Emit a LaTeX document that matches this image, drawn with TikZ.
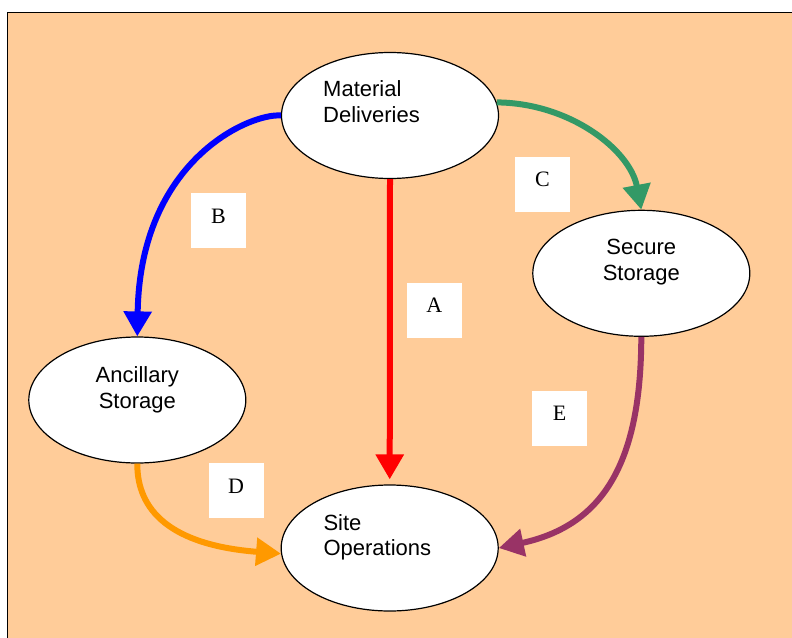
\documentclass[tikz,border=0pt]{standalone}
\usepackage{fontspec}
\setmainfont{Liberation Serif}
\newfontfamily\labelsans{Liberation Sans}
\usetikzlibrary{arrows.meta}
\definecolor{bgpeach}{HTML}{FFCC99}
\definecolor{cgreen}{HTML}{339966}
\definecolor{corange}{HTML}{FF9900}
\definecolor{cpurple}{HTML}{993366}
\tikzset{
  oval/.style={draw=black, line width=1.2pt, fill=white, ellipse, minimum width=217pt, minimum height=126pt, inner sep=0pt},
  ovaltext/.style={font=\labelsans\fontsize{22}{25.5}\selectfont, inner sep=0pt},
  lettbox/.style={fill=white, inner sep=0pt, minimum width=55pt, text height=30pt, text depth=25pt, font=\fontsize{22}{26}\selectfont},
  flow/.style={line width=6pt, -{Triangle[width=27pt,length=25pt]}}
}
\usetikzlibrary{shapes.geometric}
\begin{document}
\begin{tikzpicture}[x=1pt,y=-1pt]
\useasboundingbox (0,0) rectangle (792,637);
\fill[white] (0,0) rectangle (792,637);
\draw[line width=1pt, fill=bgpeach] (7,12) rectangle (830,670);
% ellipses
\node[oval] (md) at (390,115.5) {};
\node[oval] (ss) at (641.3,273.3) {};
\node[oval] (as) at (137.3,400) {};
\node[oval] (so) at (389.7,548) {};
% texts
\node[ovaltext, anchor=north west, align=left] (mdt) at (323,80.7) {Material\\Deliveries};
\node[ovaltext, anchor=north, align=center] (sst) at (641.3,239.3) {Secure\\Storage};
\node[ovaltext, anchor=north, align=center] (ast) at (137.3,366.7) {Ancillary\\Storage};
\node[ovaltext, anchor=north west, align=left] (sot) at (323.3,514.3) {Site\\Operations};
% connectors
\draw[flow, red, shorten >=5pt] (md.south) -- (so.north);
\draw[flow, blue] (md.west) .. controls (250,113) and (140,160) .. (as.north);
\draw[flow, cgreen] (md.7) .. controls (570,103) and (630,150) .. (ss.north);
\draw[flow, corange] (as.south) .. controls (137,510) and (170,545) .. (so.183);
\draw[flow, cpurple] (ss.south) .. controls (641,460) and (605,525) .. (so.east);
% letter boxes
\node[lettbox] (la) at (434.4,310.2) {A};
\node[lettbox] (lb) at (218.5,220.5) {B};
\node[lettbox] (lc) at (542.5,184.2) {C};
\node[lettbox] (ld) at (236,490.5) {D};
\node[lettbox] (le) at (559.7,418) {E};
\end{tikzpicture}
\end{document}
